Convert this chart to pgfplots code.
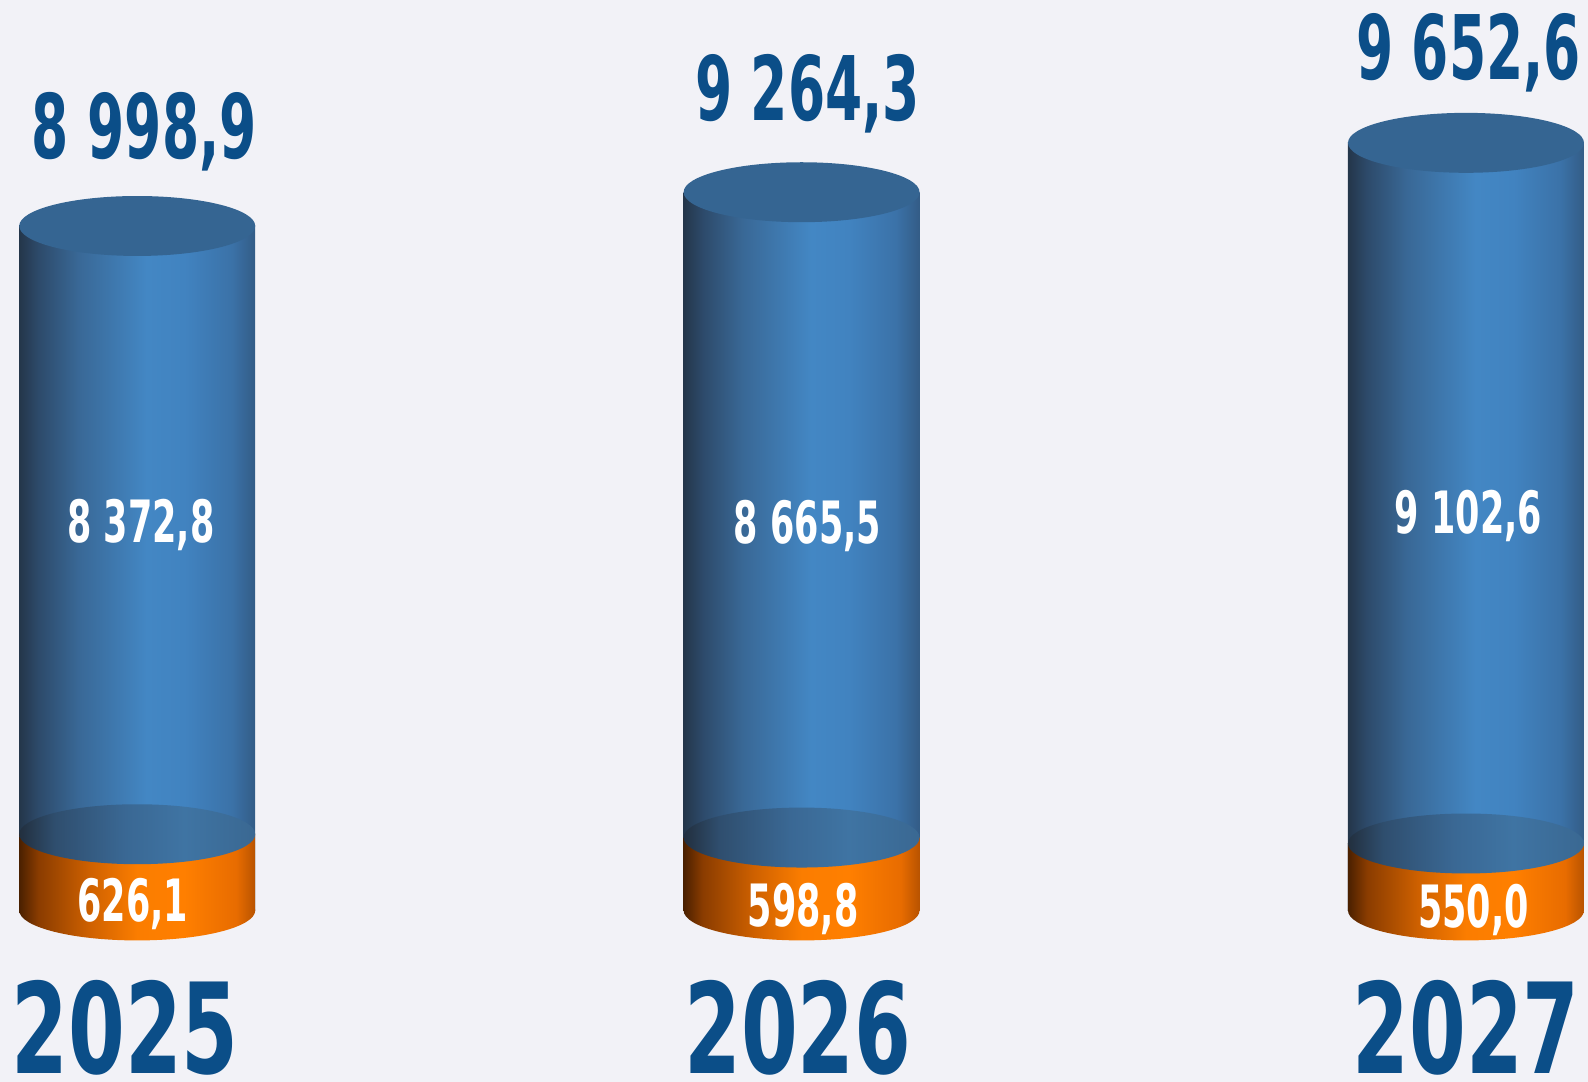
\documentclass[border=0pt]{standalone}
\usepackage{pgfplots}
\pgfplotsset{compat=1.18}
\usepackage{fontspec}
\newfontfamily\numfont{DejaVu Sans}[FakeStretch=0.6]
\newfontfamily\yrfamily{DejaVu Sans}[FakeStretch=0.65]
\definecolor{bg}{RGB}{242,242,247}
\definecolor{dblue}{RGB}{11,78,136}
\definecolor{topblue}{RGB}{53,101,146}
% blue body
\definecolor{b0}{HTML}{24364A}
\definecolor{b1}{HTML}{2D4A6A}
\definecolor{b2}{HTML}{396896}
\definecolor{b3}{HTML}{4387C4}
\definecolor{b4}{HTML}{4183C0}
\definecolor{b5}{HTML}{3B72A8}
\definecolor{b6}{HTML}{335C86}
% orange body
\definecolor{o0}{HTML}{4A2000}
\definecolor{o1}{HTML}{8A3C00}
\definecolor{o2}{HTML}{CF6100}
\definecolor{o3}{HTML}{FB7D00}
\definecolor{o4}{HTML}{FF7F00}
\definecolor{o5}{HTML}{E86C00}
\definecolor{o6}{HTML}{B85300}
% boundary ellipse
\definecolor{n0}{HTML}{222F3E}
\definecolor{n1}{HTML}{2F4E6E}
\definecolor{n2}{HTML}{3A6894}
\definecolor{n3}{HTML}{3F74A3}
\definecolor{n4}{HTML}{3A6892}
\pgfdeclarehorizontalshading{blueshade}{100bp}{color(0bp)=(b0); color(25bp)=(b0); color(29bp)=(b1); color(37.5bp)=(b2); color(52bp)=(b3); color(60bp)=(b4); color(70bp)=(b5); color(75bp)=(b6); color(100bp)=(b6)}
\pgfdeclarehorizontalshading{orangeshade}{100bp}{color(0bp)=(o0); color(25bp)=(o0); color(29bp)=(o1); color(40bp)=(o2); color(50bp)=(o3); color(60bp)=(o4); color(71bp)=(o5); color(75bp)=(o6); color(100bp)=(o6)}
\pgfdeclarehorizontalshading{bndshade}{100bp}{color(0bp)=(n0); color(25bp)=(n0); color(32.5bp)=(n1); color(47.5bp)=(n2); color(60bp)=(n3); color(75bp)=(n4); color(100bp)=(n4)}
\pgfdeclareplotmark{topell}{\pgfpathellipse{\pgfpointorigin}{\pgfqpoint{58.25pt}{0pt}}{\pgfqpoint{0pt}{14.8pt}}\pgfusepath{fill}}
\pgfdeclareplotmark{bndell}{\pgfpathellipse{\pgfpointorigin}{\pgfqpoint{58.25pt}{0pt}}{\pgfqpoint{0pt}{14.8pt}}\pgfshadepath{bndshade}{0}\pgfusepath{}}
\pgfdeclareplotmark{botell}{\pgfpathellipse{\pgfpointorigin}{\pgfqpoint{58.25pt}{0pt}}{\pgfqpoint{0pt}{14.8pt}}\pgfshadepath{orangeshade}{0}\pgfusepath{}}
\newcommand\yrfont{\yrfamily\bfseries\fontsize{62pt}{62pt}\selectfont}
\newcommand\totfont{\numfont\bfseries\fontsize{44pt}{44pt}\selectfont}
\newcommand\inrfont{\numfont\bfseries\fontsize{28.8pt}{28.8pt}\selectfont}
\pgfplotsset{
  blueaxis/.style={scale only axis, width=784pt, xmin=-0.20655, xmax=2.18369, hide axis},
  bluebar/.style={ybar, bar width=116.5pt, bar shift=0pt, draw=none, shade, shading=blueshade},
  orangebar/.style={ybar, bar width=116.5pt, bar shift=0pt, draw=none, shade, shading=orangeshade},
}
\begin{document}
\begin{tikzpicture}
\fill[bg] (0pt,0pt) rectangle (784pt,534pt);
% totals (blue cylinders)
\begin{axis}[blueaxis, at={(0pt,84.5pt)}, anchor=south west,
  height=449.5pt, ymin=3617.9, ymax=10775.6, clip=true]
\addplot[bluebar] coordinates {(0,8998.9)};
\addplot[bluebar] coordinates {(1,9264.3)};
\addplot[bluebar] coordinates {(2,9652.6)};
\addplot[only marks, mark=topell, mark options={fill=topblue, draw=none}]
  coordinates {(0,8998.9) (1,9264.3) (2,9652.6)};
\end{axis}
% bottom (orange) segment
\begin{axis}[blueaxis, at={(0pt,0pt)}, anchor=south west,
  height=534pt, ymin=-1406, ymax=7479.2, clip=false]
\addplot[only marks, mark=botell] coordinates {(0,0) (1,0) (2,0)};
\addplot[orangebar] coordinates {(0,626.1)};
\addplot[orangebar] coordinates {(1,598.8)};
\addplot[orangebar] coordinates {(2,550.0)};
\addplot[only marks, mark=bndell] coordinates {(0,626.1) (1,598.8) (2,550.0)};
\end{axis}
% labels
\begin{axis}[blueaxis, at={(0pt,0pt)}, anchor=south west,
  height=534pt, ymin=-1406, ymax=7479.2, clip=false]
\addplot[draw=none, forget plot] coordinates {(0,0)};
% years
\node[font=\yrfont, text=dblue, anchor=base, inner sep=0pt] at (axis cs:-0.0183,-1339.4) {2025};
\node[font=\yrfont, text=dblue, anchor=base, inner sep=0pt] at (axis cs:0.9944,-1339.4) {2026};
\node[font=\yrfont, text=dblue, anchor=base, inner sep=0pt] at (axis cs:2.0,-1339.4) {2027};
% totals
\node[font=\totfont, text=dblue, anchor=base, inner sep=0pt] at (axis cs:0.0107,6173) {8 998,9};
\node[font=\totfont, text=dblue, anchor=base, inner sep=0pt] at (axis cs:1.0091,6493) {9 264,3};
\node[font=\totfont, text=dblue, anchor=base, inner sep=0pt] at (axis cs:2.0038,6822) {9 652,6};
% blue segment values
\node[font=\inrfont, text=white, anchor=base, inner sep=0pt] at (axis cs:0.0053,3020) {8 372,8};
\node[font=\inrfont, text=white, anchor=base, inner sep=0pt] at (axis cs:1.009,3012) {8 665,5};
\node[font=\inrfont, text=white, anchor=base, inner sep=0pt] at (axis cs:2.0038,3095) {9 102,6};
% orange segment values
\node[font=\inrfont, text=white, anchor=base, inner sep=0pt] at (axis cs:-0.0069,-91.5) {626,1};
\node[font=\inrfont, text=white, anchor=base, inner sep=0pt] at (axis cs:1.0023,-133) {598,8};
\node[font=\inrfont, text=white, anchor=base, inner sep=0pt] at (axis cs:2.0114,-141) {550,0};
\end{axis}
\pgfresetboundingbox
\useasboundingbox (0pt,0pt) rectangle (784pt,534pt);
\end{tikzpicture}
\end{document}
